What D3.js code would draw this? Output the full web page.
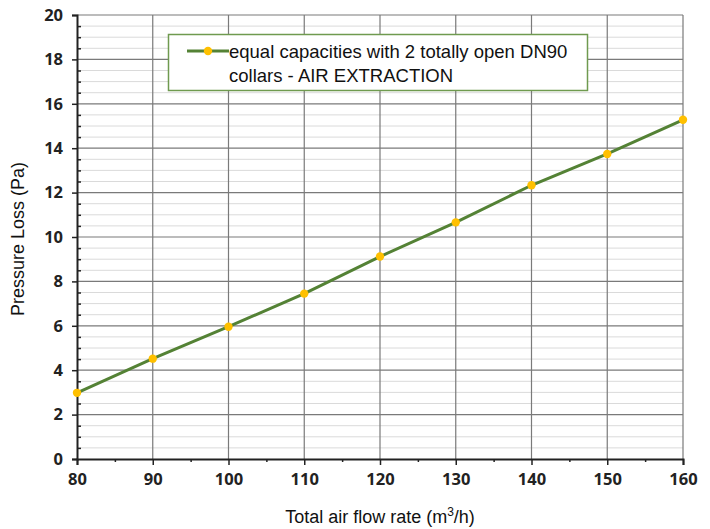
<!DOCTYPE html>
<html>
<head>
<meta charset="utf-8">
<script src="https://cdn.jsdelivr.net/npm/d3@7/dist/d3.min.js"></script>
<style>
  html, body { margin: 0; padding: 0; background: #fff; }
  svg { display: block; }
</style>
</head>
<body>
<svg id="chart" width="710" height="529"></svg>
<script>
const flowRates = [80, 90, 100, 110, 120, 130, 140, 150, 160];
const pressureLoss = [2.98, 4.52, 5.96, 7.45, 9.12, 10.66, 12.33, 13.74, 15.28];
const xTicks = [80, 90, 100, 110, 120, 130, 140, 150, 160];
const yTicks = [0, 2, 4, 6, 8, 10, 12, 14, 16, 18, 20];
const seriesName = ["equal capacities with 2 totally open DN90", "collars - AIR EXTRACTION"];
const xTitle = "Total air flow rate (m";
const yTitle = "Pressure Loss (Pa)";

const svg = d3.select("#chart");
const m = { left: 77, right: 683, top: 15, bottom: 459 };
const x = d3.scaleLinear().domain([80, 160]).range([m.left, m.right]);
const y = d3.scaleLinear().domain([0, 20]).range([m.bottom, m.top]);

const grid = svg.append("g");
grid.selectAll("line.minor").data(d3.range(0, 20.01, 0.5).filter(v => v % 2 !== 0))
  .join("line").attr("x1", m.left).attr("x2", m.right)
  .attr("y1", d => y(d)).attr("y2", d => y(d))
  .attr("stroke", "#dadada").attr("stroke-width", 1);
grid.selectAll("line.majorh").data(yTicks.slice(1))
  .join("line").attr("x1", m.left).attr("x2", m.right)
  .attr("y1", d => y(d)).attr("y2", d => y(d))
  .attr("stroke", "#7a7a7a").attr("stroke-width", 1.2);
grid.selectAll("line.majorv").data(xTicks.slice(1))
  .join("line").attr("x1", d => x(d)).attr("x2", d => x(d))
  .attr("y1", m.top).attr("y2", m.bottom)
  .attr("stroke", "#7a7a7a").attr("stroke-width", 1.2);

const tickFont = "'Open Sans', 'Liberation Sans', sans-serif";
const yAxis = d3.axisLeft(y).tickValues(yTicks).tickSize(5).tickPadding(9).tickFormat(d3.format("d"));
const gy = svg.append("g").attr("transform", `translate(${m.left},0)`).call(yAxis);
gy.select(".domain").attr("stroke", "#222").attr("stroke-width", 2);
gy.selectAll(".tick line").attr("stroke", "#222").attr("stroke-width", 1.5);
gy.selectAll(".tick text").attr("font-family", tickFont)
  .attr("font-weight", "bold").attr("font-size", 16.5).attr("fill", "#222");
const yMinor = d3.axisRight(y).tickValues(d3.range(0, 20.01, 0.5).filter(v => v % 2 !== 0)).tickSize(4).tickFormat("");
const gym = svg.append("g").attr("transform", `translate(${m.left},0)`).call(yMinor);
gym.select(".domain").remove();
gym.selectAll(".tick line").attr("stroke", "#222").attr("stroke-width", 1.5);

const xAxis = d3.axisBottom(x).tickValues(xTicks).tickSize(6).tickPadding(8).tickFormat(d3.format("d"));
const gx = svg.append("g").attr("transform", `translate(0,${m.bottom})`).call(xAxis);
gx.select(".domain").attr("stroke", "#222").attr("stroke-width", 2);
gx.selectAll(".tick line").attr("stroke", "#222").attr("stroke-width", 1.5);
gx.selectAll(".tick text").attr("font-family", tickFont)
  .attr("font-weight", "bold").attr("font-size", 16.5).attr("fill", "#222");
const xMinor = d3.axisBottom(x).tickValues(d3.range(85, 160, 10)).tickSize(3).tickFormat("");
const gxm = svg.append("g").attr("transform", `translate(0,${m.bottom})`).call(xMinor);
gxm.select(".domain").remove();
gxm.selectAll(".tick line").attr("stroke", "#222").attr("stroke-width", 1.5);

const pts = flowRates.map((f, i) => [f, pressureLoss[i]]);
svg.append("path").datum(pts)
  .attr("d", d3.line().x(d => x(d[0])).y(d => y(d[1])))
  .attr("fill", "none").attr("stroke", "#548235").attr("stroke-width", 3);
svg.selectAll("circle.pt").data(pts).join("circle")
  .attr("cx", d => x(d[0])).attr("cy", d => y(d[1])).attr("r", 4.2)
  .attr("fill", "#ffc000");

const lg = svg.append("g");
lg.append("rect").attr("x", 168.5).attr("y", 34.5).attr("width", 419).attr("height", 56)
  .attr("fill", "#fff").attr("stroke", "#6f9a4f").attr("stroke-width", 1.5);
lg.append("line").attr("x1", 187).attr("x2", 229).attr("y1", 51).attr("y2", 51)
  .attr("stroke", "#548235").attr("stroke-width", 3);
lg.append("circle").attr("cx", 208).attr("cy", 51).attr("r", 4.2).attr("fill", "#ffc000");
lg.selectAll("text").data(seriesName).join("text")
  .attr("x", 229).attr("y", (d, i) => 57.5 + i * 24)
  .attr("font-family", "'Liberation Sans', Arial, sans-serif").attr("font-size", 18.5)
  .attr("fill", "#111").text(d => d);

const xt = svg.append("text").attr("x", 380).attr("y", 523).attr("text-anchor", "middle")
  .attr("font-family", "'Liberation Sans', Arial, sans-serif").attr("font-size", 18).attr("fill", "#111");
xt.append("tspan").text(xTitle);
xt.append("tspan").attr("font-size", 12).attr("dy", -7).text("3");
xt.append("tspan").attr("dy", 7).text("/h)");

svg.append("text").attr("transform", "translate(24,239) rotate(-90)").attr("text-anchor", "middle")
  .attr("font-family", "'Liberation Sans', Arial, sans-serif").attr("font-size", 18).attr("fill", "#111")
  .text(yTitle);
</script>
</body>
</html>
